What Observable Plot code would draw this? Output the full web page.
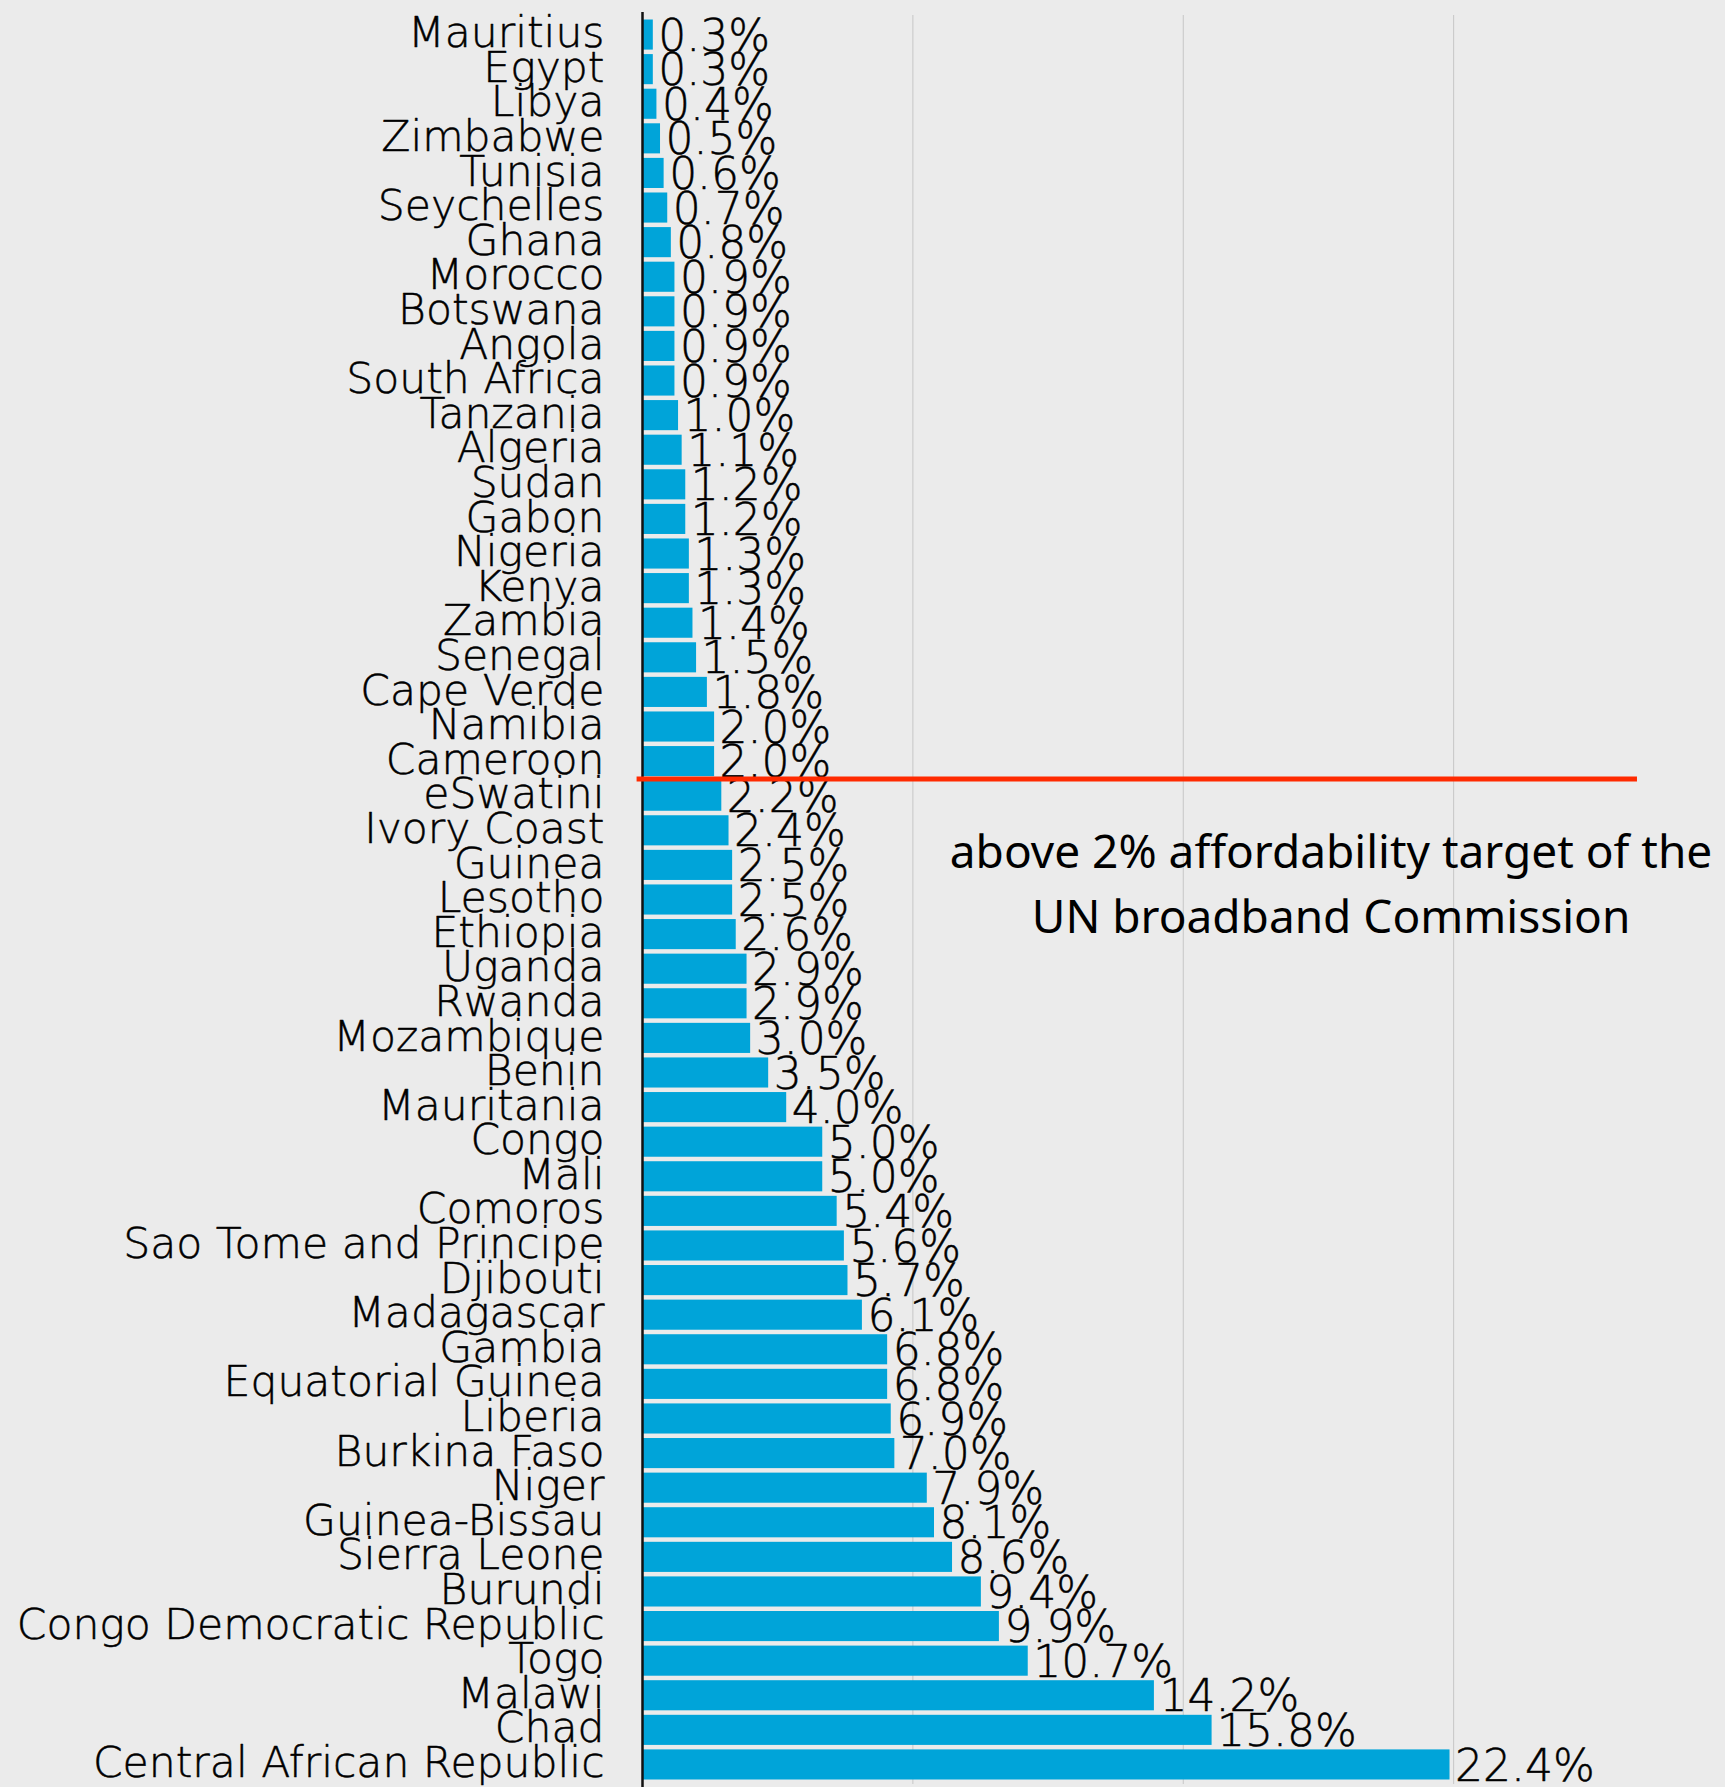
<!DOCTYPE html>
<html>
<head>
<meta charset="utf-8">
<script src="https://cdn.jsdelivr.net/npm/d3@7"></script>
<script src="https://cdn.jsdelivr.net/npm/@observablehq/plot@0.6"></script>
<style>
  html, body { margin: 0; padding: 0; background: #ebebeb; }
  #chart svg { display: block; }
</style>
</head>
<body>
<div id="chart"></div>
<script>
const countries = ["Mauritius","Egypt","Libya","Zimbabwe","Tunisia","Seychelles","Ghana","Morocco","Botswana","Angola","South Africa","Tanzania","Algeria","Sudan","Gabon","Nigeria","Kenya","Zambia","Senegal","Cape Verde","Namibia","Cameroon","eSwatini","Ivory Coast","Guinea","Lesotho","Ethiopia","Uganda","Rwanda","Mozambique","Benin","Mauritania","Congo","Mali","Comoros","Sao Tome and Principe","Djibouti","Madagascar","Gambia","Equatorial Guinea","Liberia","Burkina Faso","Niger","Guinea-Bissau","Sierra Leone","Burundi","Congo Democratic Republic","Togo","Malawi","Chad","Central African Republic"];
const values = [0.3,0.3,0.4,0.5,0.6,0.7,0.8,0.9,0.9,0.9,0.9,1.0,1.1,1.2,1.2,1.3,1.3,1.4,1.5,1.8,2.0,2.0,2.2,2.4,2.5,2.5,2.6,2.9,2.9,3.0,3.5,4.0,5.0,5.0,5.4,5.6,5.7,6.1,6.8,6.8,6.9,7.0,7.9,8.1,8.6,9.4,9.9,10.7,14.2,15.8,22.4];
const gridTicks = [7.5, 15, 22.5];
const targetAbove = "eSwatini";
const annotationLines = ["above 2% affordability target of the", "UN broadband Commission"];
const annotationRow = "Lesotho";
const annotationX = 19.1;
const lineExtent = [-0.15, 27.6];

const data = countries.map((c, i) => ({country: c, value: values[i]}));

const thinFont = "'DejaVu Sans ExtraLight', 'DejaVu Sans', sans-serif";

const chart = Plot.plot({
  width: 1725,
  height: 1787,
  marginLeft: 642,
  marginRight: 1.5,
  marginTop: 15,
  marginBottom: 3,
  style: {background: "#ebebeb", fontFamily: thinFont, color: "#000"},
  x: {domain: [0, 30], axis: null},
  y: {domain: countries, padding: 0.13, axis: null},
  marks: [
    Plot.ruleX(gridTicks, {stroke: "#c6c6c6", strokeWidth: 1}),
    Plot.barX(data, {x: "value", y: "country", fill: "#00a4d9"}),
    Plot.ruleX([0], {stroke: "#111", strokeWidth: 2.5, insetTop: -3, insetBottom: -3}),
    Plot.text(data, {x: 0, y: "country", text: "country", textAnchor: "end", dx: -38, dy: -1.5, fontSize: 42.5, fontWeight: 200, fontFamily: thinFont, fill: "#000", stroke: "#000", strokeWidth: 0.5}),
    Plot.text(data, {x: "value", y: "country", text: d => d.value.toFixed(1) + "%", textAnchor: "start", dx: 5, dy: 1.5, fontSize: 44, fontWeight: 200, fontFamily: thinFont, fill: "#000", stroke: "#000", strokeWidth: 0.5}),
    Plot.ruleY([targetAbove], {x1: lineExtent[0], x2: lineExtent[1], stroke: "#ff2a00", strokeWidth: 5, dy: -17.3}),
    Plot.text([annotationLines.join("\n")], {x: annotationX, y: [annotationRow], text: d => d, textAnchor: "middle", fontSize: 46, lineHeight: 1.413, dy: -20, fontFamily: "'Noto Sans', sans-serif", fontWeight: 400, fill: "#000"})
  ]
});
document.getElementById("chart").appendChild(chart);
</script>
</body>
</html>
